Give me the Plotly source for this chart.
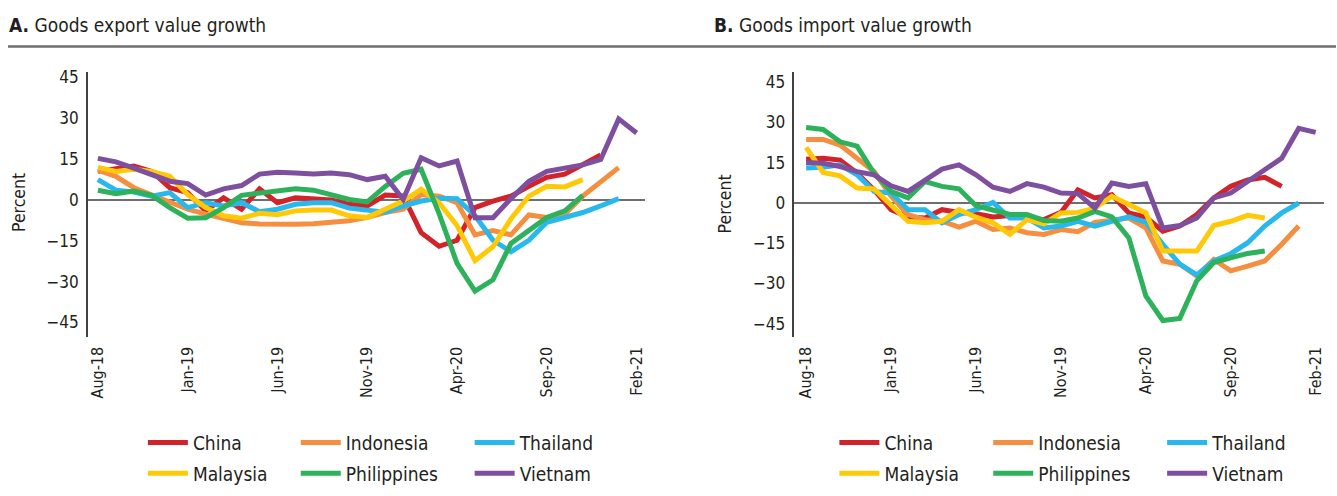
import plotly.graph_objects as go

W, H = 1337, 496

months = ["Aug-18", "Sep-18", "Oct-18", "Nov-18", "Dec-18", "Jan-19", "Feb-19", "Mar-19",
          "Apr-19", "May-19", "Jun-19", "Jul-19", "Aug-19", "Sep-19", "Oct-19", "Nov-19",
          "Dec-19", "Jan-20", "Feb-20", "Mar-20", "Apr-20", "May-20", "Jun-20", "Jul-20",
          "Aug-20", "Sep-20", "Oct-20", "Nov-20", "Dec-20", "Jan-21", "Feb-21"]
tick_labels = ["Aug-18", "Jan-19", "Jun-19", "Nov-19", "Apr-20", "Sep-20", "Feb-21"]
y_ticks = [-45, -30, -15, 0, 15, 30, 45]

countries = ["China", "Indonesia", "Thailand", "Malaysia", "Philippines", "Vietnam"]

# Panel A: goods export value growth (percent)
exp_china = [10.5, 11.3, 12.5, 10.5, 4.5, 2.7, -4, 0.8, -3.4, 4.1, -1, 0.8, 0.5, 0, -1.6, -2.2,
             1.8, 1.5, -12, -17, -14.8, -2.8, -0.4, 1.4, 5, 8.3, 9.5, 12.9, 16.5, None, None]
exp_indonesia = [11, 8.7, 4.5, 2, -0.7, -3.4, -5.2, -7, -8.4, -8.8, -9, -8.9, -8.7, -8, -7.6, -6.4,
                 -4.6, -3.4, 2, 1.4, -1, -12.8, -11.2, -12.8, -5.5, -6.4, -5.2, 1.4, 6.6, 11.9, None]
exp_thailand = [7.5, 3.6, 2.9, 1.4, 2.7, -2.8, -1, -2.2, -1, -4.3, -3.4, -1.6, -1, -1, -3, -3.7,
                -4.5, -2.2, -0.4, 0.6, 0.5, -5.8, -14.8, -19, -14.8, -8.2, -6.4, -4.6, -2.2, 0.5, None]
exp_malaysia = [12, 10.5, 11.3, 10.5, 8.7, 2, -2.8, -5.8, -6.7, -4.9, -5.4, -4, -3.7, -3.7, -5.8, -6.4,
                -3.4, -0.4, 3.9, -1, -9.4, -22.3, -17.2, -7, 1.4, 5, 4.8, 7.5, None, None, None]
exp_philippines = [3.6, 2.3, 3.3, 1.7, -2.8, -6.7, -6.5, -2.8, 1.7, 2.4, 3.5, 4.1, 3.6, 2, 0.2, -0.7,
                   5, 9.8, 11.3, -5, -23.3, -33.5, -29.3, -16, -11.2, -6.4, -4, 1.7, None, None, None]
exp_vietnam = [15.3, 14, 11.7, 9.3, 6.9, 6, 1.8, 4.1, 5.3, 9.5, 10.2, 9.9, 9.5, 9.9, 9.3, 7.5,
               8.7, 0.2, 15.5, 12.5, 14.3, -6.5, -6.5, 0.5, 6.9, 10.5, 11.7, 12.9, 14.9, 29.8, 24.6]

# Panel B: goods import value growth (percent)
imp_china = [16.3, 16.7, 16, 11.1, 4.9, -2.5, -5.2, -5.6, -2.5, -3.5, -4, -5.2, -4.7, -5.5, -6.2, -3.5,
             4.9, 1.9, 3.1, -3.7, -5.2, -10.5, -8.6, -4.3, 1.9, 6.2, 8.6, 9.6, 6.2, None, None]
imp_indonesia = [23.7, 23.7, 21.6, 16.7, 11.7, 2.5, -4.3, -6.2, -6.8, -9, -6.8, -9.9, -9.3, -11.1, -11.7, -9.9,
                 -10.7, -7.2, -6.2, -5.6, -9.3, -21.6, -22.8, -27.2, -21, -25.3, -23.5, -21.6, -15.4, -8.6, None]
imp_thailand = [13, 13.3, 14.2, 10.5, 4.3, 3.7, -2.5, -2.5, -7.4, -4.3, -2.5, 0.2, -5.6, -5.6, -9.3, -8.6,
                -6.8, -8.6, -6.8, -5.2, -7.2, -15.4, -22.8, -26.8, -21.6, -18.9, -14.8, -8.6, -3.7, 0, None]
imp_malaysia = [20.7, 11.4, 10.1, 5.6, 5.2, -0.6, -6.8, -7.4, -6.8, -2.5, -5.3, -7.4, -11.7, -6.2, -7.8, -3.7,
                -3.5, -1.9, 2.5, -0.6, -3.7, -17.9, -17.9, -17.9, -8.4, -6.8, -4.6, -5.6, None, None, None]
imp_philippines = [28.1, 27.4, 22.8, 21.2, 11.1, 4.3, 1.9, 8, 6.2, 5.3, -1, -2.5, -4.3, -4.3, -6.5, -6.8,
                   -5.6, -3.1, -5.2, -13, -34.6, -43.8, -43, -29, -22.2, -20.4, -18.8, -17.9, None, None, None]
imp_vietnam = [15.1, 14.8, 13.6, 11.7, 10.5, 6.4, 4.3, 8.4, 12.6, 14.2, 10.5, 5.9, 4.3, 7.2, 5.9, 3.7,
               3.5, -1.9, 7.4, 6.2, 7.2, -9.3, -8.4, -5.6, 1.9, 3.7, 8, 12.6, 16.7, 27.8, 26.3]

export_series = [exp_china, exp_indonesia, exp_thailand, exp_malaysia, exp_philippines, exp_vietnam]
import_series = [imp_china, imp_indonesia, imp_thailand, imp_malaysia, imp_philippines, imp_vietnam]

colors = ["#D2232A", "#F58F3F", "#29B8EC", "#FFC907", "#2DB15B", "#7D4F9E"]

FONT = "DejaVu Sans Condensed, Liberation Sans Narrow, Arial Narrow, sans-serif"
TXT = "#231F20"

fig = go.Figure()

legA = ["legend", "legend2", "legend3"]
legB = ["legend4", "legend5", "legend6"]

for k, name in enumerate(countries):
    fig.add_trace(go.Scatter(x=months, y=export_series[k], name=name, mode="lines",
                             line=dict(color=colors[k], width=5), xaxis="x", yaxis="y",
                             legend=legA[k % 3], legendgroup="A" + name,
                             connectgaps=False, hoverinfo="skip"))
for k, name in enumerate(countries):
    fig.add_trace(go.Scatter(x=months, y=import_series[k], name=name, mode="lines",
                             line=dict(color=colors[k], width=5), xaxis="x2", yaxis="y2",
                             legend=legB[k % 3], legendgroup="B" + name,
                             connectgaps=False, hoverinfo="skip"))

def px(v):
    return v / W

def py(v):
    return 1 - v / H

ydom = [py(335), py(68)]

xax = dict(type="category", categoryorder="array", categoryarray=months,
           tickmode="array", tickvals=tick_labels, ticktext=tick_labels,
           tickangle=-90, showgrid=False, zeroline=False, showline=False, ticks="",
           ticklabelstandoff=6, tickfont=dict(family=FONT, size=16, color=TXT))
yax = dict(tickmode="array", tickvals=y_ticks, showgrid=False, zeroline=True,
           zerolinecolor="#6D6E71", zerolinewidth=1.5, showline=True, linecolor="#414042",
           linewidth=1.5, ticks="", ticklabelstandoff=4,
           tickfont=dict(family=FONT, size=17, color=TXT), domain=ydom)

leg_common = dict(orientation="v", xanchor="left", yanchor="top", bgcolor="rgba(0,0,0,0)",
                  borderwidth=0, font=dict(family=FONT, size=19, color=TXT),
                  tracegroupgap=3, itemwidth=40, traceorder="grouped")

colsA = [149, 302, 476]
colsB = [841, 995, 1169]
legends = {}
for i, c in enumerate(colsA):
    legends[legA[i]] = dict(leg_common, x=px(c - 6), y=py(423))
for i, c in enumerate(colsB):
    legends[legB[i]] = dict(leg_common, x=px(c - 6), y=py(423))

fig.update_layout(
    width=W, height=H, margin=dict(l=0, r=0, t=0, b=0),
    paper_bgcolor="white", plot_bgcolor="white",
    showlegend=True,
    xaxis=dict(xax, domain=[px(88), px(645)], range=[-0.556, 30.44], anchor="y"),
    yaxis=dict(yax, range=[-50.2, 46.9], anchor="x"),
    xaxis2=dict(xax, domain=[px(795), px(1325)], range=[-0.69, 30.49], anchor="y2"),
    yaxis2=dict(yax, range=[-49.8, 48.7], anchor="x2"),
    annotations=[
        dict(text="<b>A.</b> Goods export value growth", x=px(7), y=py(20), xref="paper", yref="paper",
             xanchor="left", yanchor="middle", showarrow=False,
             font=dict(family=FONT, size=19, color=TXT)),
        dict(text="<b>B.</b> Goods import value growth", x=px(713), y=py(20), xref="paper", yref="paper",
             xanchor="left", yanchor="middle", showarrow=False,
             font=dict(family=FONT, size=19, color=TXT)),
        dict(text="Percent", x=px(19), y=py(199), xref="paper", yref="paper", textangle=-90,
             xanchor="center", yanchor="middle", showarrow=False,
             font=dict(family=FONT, size=17.5, color=TXT)),
        dict(text="Percent", x=px(726), y=py(201), xref="paper", yref="paper", textangle=-90,
             xanchor="center", yanchor="middle", showarrow=False,
             font=dict(family=FONT, size=17.5, color=TXT)),
    ],
    shapes=[
        dict(type="line", xref="paper", yref="paper", x0=px(8), x1=px(1337), y0=py(42), y1=py(42),
             line=dict(color="#6D6E71", width=2.5)),
    ],
    **legends,
)

fig.write_html("out.html", config={"displayModeBar": False},
               post_script="document.body.style.margin='0';document.body.style.padding='0';")
